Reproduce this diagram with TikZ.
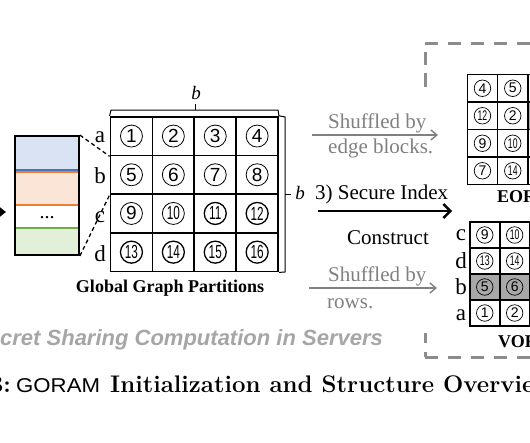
\documentclass[tikz,border=0pt]{standalone}
\usepackage{fontspec}
\usepackage{graphicx}
\newfontfamily\tnr{Liberation Serif}
\newfontfamily\arl{Liberation Sans}
\usetikzlibrary{arrows.meta}
\definecolor{bfill}{HTML}{DAE3F3}
\definecolor{bline}{HTML}{4472C4}
\definecolor{ofill}{HTML}{FBE5D6}
\definecolor{oline}{HTML}{ED7D31}
\definecolor{gfill}{HTML}{E2F0D9}
\definecolor{gline}{HTML}{70AD47}
\definecolor{graytext}{HTML}{808080}
\definecolor{shade}{HTML}{A8A8A8}
\definecolor{boxgray}{HTML}{8C8C8C}
\definecolor{capgray}{HTML}{A6A6A6}
\newcommand\numfmt[1]{\ifnum#1>9 \scalebox{0.62}[1]{#1}\else #1\fi}
\begin{document}
\begin{tikzpicture}[x=1pt,y=-1pt,
  lbl/.style={font=\tnr\fontsize{23}{23}\selectfont, inner sep=0pt, anchor=base},
  gtxt/.style={font=\tnr\fontsize{21}{21}\selectfont, text=graytext, inner sep=0pt, anchor=base west},
  btxt/.style={font=\tnr\fontsize{21}{21}\selectfont, inner sep=0pt, anchor=base west},
  bold/.style={font=\tnr\bfseries\fontsize{18}{18}\selectfont, inner sep=0pt},
  bigcell/.style={draw, line width=1.8pt, minimum width=41.9pt, minimum height=38.7pt, inner sep=0pt},
  smallcell/.style={draw, line width=1.6pt, minimum width=30.3pt, minimum height=27.5pt, inner sep=0pt},
  vcell/.style={draw, line width=1.6pt, minimum width=29.9pt, minimum height=26pt, inner sep=0pt},
  bigc/.style={circle, draw, line width=0.8pt, minimum size=22pt, inner sep=0pt, font=\arl\fontsize{19}{19}\selectfont},
  bigcb/.style={bigc, line width=1.3pt},
  smallc/.style={circle, draw, line width=0.7pt, minimum size=16.5pt, inner sep=0pt, font=\arl\fontsize{14}{14}\selectfont},
  band/.style={line width=1.4pt, minimum width=64pt, inner sep=0pt},
  garrow/.style={draw=graytext, line width=1.4pt, -{Straight Barb[length=6pt,width=10pt]}},
  barrow/.style={draw=black, line width=2.4pt, -{Straight Barb[length=7pt,width=14pt]}},
  dashbox/.style={draw=boxgray, line width=3pt, dash pattern=on 13pt off 10pt},
  thinline/.style={line width=1pt},
]
\useasboundingbox (0,0) rectangle (530,442);
\clip (0,0) rectangle (530,442);

% incoming arrow
\coordinate (inS) at (-15,212);
\coordinate (inE) at (6,212);
\draw[line width=1.5pt, -{Triangle[length=6pt,width=9pt]}] (inS) -- (inE);

% stacked partition box
\node[band, draw=bline, fill=bfill, minimum height=34pt] (bandA) at (47,153) {};
\node[band, draw=oline, fill=ofill, minimum height=33pt] (bandB) at (47,188.5) {};
\node[band, draw=gline, fill=gfill, minimum height=27pt] (bandD) at (47,241.5) {};
\node[draw, line width=1.8pt, minimum width=64pt, minimum height=119pt, inner sep=0pt] (stack) at (47,195.5) {};
\node[font=\tnr\fontsize{20}{20}\selectfont, inner sep=0pt, anchor=base] (dots) at (47,218) {...};

% main grid
\foreach \n [count=\i from 0] in {1,...,16} {
  \pgfmathtruncatemacro\r{\i/4}
  \pgfmathtruncatemacro\c{mod(\i,4)}
  \node[bigcell] (m\n) at ({131.45+41.9*\c},{136.05+38.7*\r}) {};
  \ifnum\n>10
    \node[bigcb] (mc\n) at (m\n) {\numfmt{\n}};
  \else
    \node[bigc] (mc\n) at (m\n) {\numfmt{\n}};
  \fi
}

% dashed zoom lines
\draw[dash pattern=on 4pt off 3pt, line width=1.3pt] (stack.north east) -- (m1.south west);
\draw[dash pattern=on 4pt off 3pt, line width=1.3pt] (stack.south east) -- (m5.south west);

% row labels
\node[lbl] (la) at (100,142) {a};
\node[lbl] (lb) at (100,183) {b};
\node[lbl] (lc) at (100,222) {c};
\node[lbl] (ld) at (100,261) {d};

% top bracket
\coordinate (tbL) at (111,110);
\coordinate (tbR) at (278,110);
\coordinate (tbM) at (195,110);
\coordinate (tbT) at (195,104);
\draw[thinline] (m1.north west) -- (tbL) -- (tbR) -- (m4.north east);
\draw[thinline] (tbM) -- (tbT);
\node[font=\tnr\itshape\fontsize{19}{19}\selectfont, inner sep=0pt, anchor=base] (btop) at (196,99) {b};

% right bracket
\coordinate (rbT) at (285,117);
\coordinate (rbB) at (285,272);
\coordinate (rbM) at (285,194);
\coordinate (rbN) at (291,194);
\draw[thinline] (m4.north east) -- (rbT) -- (rbB) -- (m16.south east);
\draw[thinline] (rbM) -- (rbN);
\node[font=\tnr\itshape\fontsize{19}{19}\selectfont, inner sep=0pt, anchor=base] (bright) at (300,199) {b};

\node[bold, anchor=base] (ggp) at (170,292) {Global Graph Partitions};

% arrows in the middle
\node[gtxt] (s1) at (328,128) {Shuffled by};
\node[gtxt] (e1) at (328,153) {edge blocks.};
\coordinate (a1s) at (312,135);
\coordinate (a1e) at (438,135);
\draw[garrow] (a1s) -- (a1e);

\node[btxt] (sec) at (315,199) {3) Secure Index};
\node[btxt] (con) at (347,244) {Construct};
\coordinate (a2s) at (318,211);
\coordinate (a2e) at (452,211);
\draw[barrow] (a2s) -- (a2e);

\node[gtxt] (s2) at (328,281) {Shuffled by};
\node[gtxt] (rw) at (327,308) {rows.};
\coordinate (a3s) at (309,288);
\coordinate (a3e) at (437,288);
\draw[garrow] (a3s) -- (a3e);

% dashed server box (left side only partly shown)
\coordinate (dbTL) at (425,43);
\coordinate (dbTR) at (560,43);
\coordinate (dbTE) at (425,90);
\coordinate (dbBL) at (425,357);
\coordinate (dbBR) at (560,357);
\coordinate (dbBE) at (425,330);
\draw[dashbox] (dbTL) -- (dbTR);
\draw[dashbox, dash pattern=on 0pt off 9pt on 13pt off 8pt on 14pt off 40pt] (dbTL) -- (dbTE);
\draw[dashbox, dash pattern=on 5pt off 9pt on 10pt off 40pt] (dbBL) -- (dbBE);
\draw[dashbox] (dbBL) -- (dbBR);

% EOR grid
\foreach \n/\r/\c in {4/0/0,5/0/1,12/1/0,2/1/1,9/2/0,10/2/1,7/3/0,14/3/1} {
  \node[smallcell] (e\n) at ({482.45+30.3*\c},{88.25+27.5*\r}) {};
  \node[smallc] (ec\n) at (e\n) {\numfmt{\n}};
}
\node[smallcell] (ex1) at (543.05,88.25) {};
\node[smallcell, fill=shade] (ex2) at (543.05,115.75) {};
\node[smallcell] (ex3) at (543.05,143.25) {};
\node[smallcell] (ex4) at (543.05,170.75) {};
\node[bold, anchor=base west] (eor) at (497,202) {EOR};

% VOR grid
\foreach \n/\r/\c/\f in {9/0/0/white,10/0/1/white,13/1/0/white,14/1/1/white,5/2/0/shade,6/2/1/shade,1/3/0/white,2/3/1/white} {
  \node[vcell, fill=\f] (v\n) at ({484.75+29.9*\c},{235+26*\r}) {};
  \node[smallc] (vc\n) at (v\n) {\numfmt{\n}};
}
\node[vcell] (vx1) at (544.55,235) {};
\node[vcell] (vx2) at (544.55,261) {};
\node[vcell, fill=shade] (vx3) at (544.55,287) {};
\node[vcell] (vx4) at (544.55,313) {};
\node[lbl] (vlc) at (461,240) {c};
\node[lbl] (vld) at (461,268) {d};
\node[lbl] (vlb) at (461,294) {b};
\node[lbl] (vla) at (461,320) {a};
\node[bold, anchor=base west] (vor) at (498,347) {VOR};

% bottom texts
\node[font=\arl\bfseries\itshape\fontsize{22}{22}\selectfont, text=capgray, inner sep=0pt, anchor=base west] (sss) at (0,345) {cret Sharing Computation in Servers};
\node[font=\bfseries\fontsize{24}{24}\selectfont, inner sep=0pt, anchor=base east] (fig) at (11,392) {3:};
\node[font=\arl\fontsize{20}{20}\selectfont, inner sep=0pt, anchor=base west] (goram) at (16,392) {\scalebox{1.11}[1]{GORAM}};
\node[font=\bfseries\fontsize{24}{24}\selectfont, inner sep=0pt, anchor=base west] (capt) at (110,392) {Initialization and Structure Overview};
\end{tikzpicture}
\end{document}
